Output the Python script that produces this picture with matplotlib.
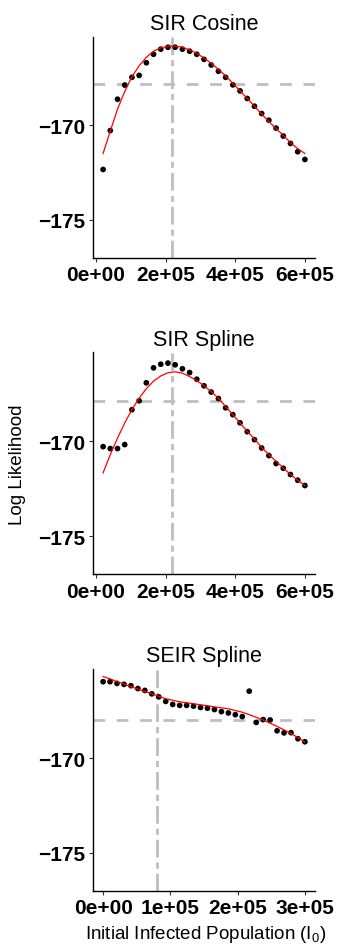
import matplotlib
matplotlib.use('Agg')
import matplotlib.pyplot as plt

plt.rcParams['font.family'] = ['Liberation Sans', 'DejaVu Sans']
plt.rcParams['axes.unicode_minus'] = True

# I0 grid (SIR models: 29 points, SEIR: 30 points)
I0_SIR = [20690, 41379, 62069, 82759, 103448, 124138, 144828, 165517, 186207,
          206897, 227586, 248276, 268966, 289655, 310345, 331034, 351724,
          372414, 393103, 413793, 434483, 455172, 475862, 496552, 517241,
          537931, 558621, 579310, 600000]
I0_SEIR = [0, 10345, 20690, 31034, 41379, 51724, 62069, 72414, 82759, 93103,
           103448, 113793, 124138, 134483, 144828, 155172, 165517, 175862,
           186207, 196552, 206897, 217241, 227586, 237931, 248276, 258621,
           268966, 279310, 289655, 300000]

# SIR Cosine
LL_COS = [-172.34, -170.28, -168.62, -167.87, -167.46, -167.36, -166.69, -166.24,
          -165.97, -165.87, -165.87, -165.97, -166.08, -166.24, -166.51, -166.81,
          -167.14, -167.46, -167.86, -168.18, -168.58, -168.99, -169.38, -169.73,
          -170.15, -170.57, -170.96, -171.40, -171.81]
FIT_COS = [-171.49, -170.30, -169.15, -168.21, -167.43, -166.85, -166.40, -166.08,
           -165.90, -165.81, -165.81, -165.87, -166.01, -166.19, -166.44, -166.72,
           -167.04, -167.38, -167.78, -168.18, -168.58, -168.99, -169.41, -169.80,
           -170.18, -170.53, -170.92, -171.24, -171.49]

# SIR Spline
LL_SPL = [-170.28, -170.38, -170.38, -170.17, -168.33, -167.86, -166.91, -166.12,
          -165.93, -165.87, -165.96, -166.17, -166.37, -166.72, -167.07, -167.40,
          -167.74, -168.23, -168.59, -169.02, -169.49, -169.91, -170.35, -170.75,
          -171.17, -171.42, -171.75, -172.05, -172.33]
FIT_SPL = [-171.66, -170.70, -169.83, -169.03, -168.32, -167.72, -167.22, -166.82,
           -166.55, -166.38, -166.33, -166.40, -166.58, -166.79, -167.07, -167.37,
           -167.72, -168.16, -168.59, -169.03, -169.47, -169.87, -170.32, -170.70,
           -171.05, -171.40, -171.75, -172.05, -172.33]

# SEIR Spline
LL_SEIR = [-165.97, -165.97, -166.06, -166.11, -166.18, -166.33, -166.43, -166.61,
           -166.77, -167.01, -167.17, -167.22, -167.22, -167.26, -167.33, -167.37,
           -167.44, -167.55, -167.62, -167.71, -167.81, -166.47, -168.12, -167.97,
           -167.99, -168.56, -168.67, -168.66, -168.98, -169.14]
FIT_SEIR = [-165.70, -165.82, -165.97, -166.09, -166.24, -166.36, -166.49, -166.61,
            -166.74, -166.87, -166.95, -167.03, -167.08, -167.13, -167.19, -167.24,
            -167.30, -167.35, -167.40, -167.49, -167.58, -167.71, -167.85, -167.99,
            -168.16, -168.33, -168.51, -168.71, -168.92, -169.16]

TITLES = ['SIR Cosine', 'SIR Spline', 'SEIR Spline']
CUTOFF = [-167.80, -167.85, -168.00]
I0_BEST = [218000, 218000, 80000]
X_TICKS = [[0, 200000, 400000, 600000], [0, 200000, 400000, 600000],
           [0, 100000, 200000, 300000]]
X_TICKLABELS = [['0e+00', '2e+05', '4e+05', '6e+05'],
                ['0e+00', '2e+05', '4e+05', '6e+05'],
                ['0e+00', '1e+05', '2e+05', '3e+05']]
Y_TICKS = [-175, -170]

W, H = 338, 945
fig = plt.figure(figsize=(W / 100, H / 100), dpi=100)

panels = [
    (I0_SIR, LL_COS, FIT_COS, 37.5, 258.5, (-8300, 629000)),
    (I0_SIR, LL_SPL, FIT_SPL, 353.3, 575.0, (-8300, 629000)),
    (I0_SEIR, LL_SEIR, FIT_SEIR, 670.0, 891.7, (-15000, 315000)),
]

for i, (xs, ll, fit, top, bottom, xlim) in enumerate(panels):
    ax = fig.add_axes([93 / W, 1 - bottom / H, 222 / W, (bottom - top) / H])
    ax.axhline(CUTOFF[i], color='#bebebe', lw=2, dashes=(4.2, 4.2), zorder=1)
    ax.axvline(I0_BEST[i], color='#bebebe', lw=2, dashes=(6.4, 1.8, 2.2, 1.8), zorder=1)
    ax.scatter(xs, ll, s=17, color='black', edgecolors='none', zorder=3)
    ax.plot(xs, fit, color='red', lw=0.9, zorder=4)

    ax.set_xlim(*xlim)
    ax.set_ylim(-177.0, -165.3)
    ax.set_xticks(X_TICKS[i])
    ax.set_xticklabels(X_TICKLABELS[i], fontsize=15, fontweight='bold')
    ax.set_yticks(Y_TICKS)
    ax.set_yticklabels(['\u2212175', '\u2212170'], fontsize=15, fontweight='bold')
    ax.tick_params(length=3, width=0.8, color='#333333', pad=2.5)
    ax.spines['top'].set_visible(False)
    ax.spines['right'].set_visible(False)
    for s in ('left', 'bottom'):
        ax.spines[s].set_linewidth(1.0)
    ax.set_title(TITLES[i], fontsize=15.5, pad=5.5)

fig.text(18 / W, 1 - 465 / H, 'Log Likelihood', rotation=90,
         ha='center', va='center', fontsize=13.5)
fig.text(206 / W, 6 / H, r'Initial Infected Population (I$_\mathregular{0}$)',
         ha='center', va='baseline', fontsize=13.5)

fig.savefig('out.png', dpi=100)
plt.close(fig)
